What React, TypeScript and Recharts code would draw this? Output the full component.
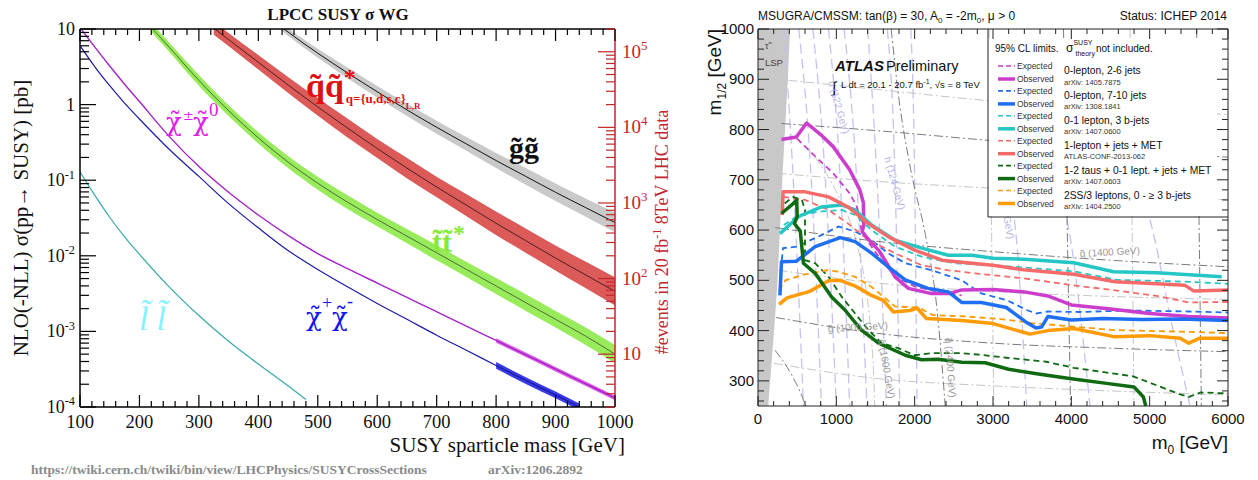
import React from "react";
import { ComposedChart, Line, Area, XAxis, YAxis } from "recharts";

const SERIF = '"Liberation Serif", "Times New Roman", serif';
const GREEK = '"DejaVu Serif", "Liberation Serif", serif';
const SANS = '"Liberation Sans", Arial, sans-serif';
const RED = "#c4262b";
const T = "\u0303"; // combining tilde

// ---------- left panel: NLO cross sections, log10(sigma / pb) ----------
const L_X_LABELS = [100, 200, 300, 400, 500, 600, 700, 800, 900, 1000];
const L_Y_DECADES = [-4, -3, -2, -1, 0, 1];
const LUMI_PB = 20000;

const GLUINO_M = [440, 450, 500, 550, 600, 650, 700, 750, 800, 850, 900, 950, 1000];
const GLUINO_LOG = [1.02, 0.96, 0.68, 0.42, 0.17, -0.07, -0.3, -0.52, -0.74, -0.95, -1.16, -1.36, -1.56];
const GLUINO_ERR = [0.05, 0.05, 0.06, 0.07, 0.075, 0.08, 0.085, 0.09, 0.1, 0.11, 0.115, 0.12, 0.13];

const SQUARK_M = [325, 350, 400, 450, 500, 550, 600, 650, 700, 750, 800, 850, 900, 950, 1000];
const SQUARK_LOG = [1.01, 0.86, 0.56, 0.26, -0.03, -0.31, -0.58, -0.84, -1.09, -1.33, -1.57, -1.8, -2.03, -2.25, -2.47];
const SQUARK_ERR = [0.08, 0.08, 0.09, 0.1, 0.11, 0.12, 0.12, 0.13, 0.13, 0.14, 0.15, 0.155, 0.16, 0.17, 0.18];

const STOP_M = [220, 250, 300, 350, 400, 450, 500, 550, 600, 650, 700, 750, 800, 850, 900, 950, 1000];
const STOP_LOG = [1.02, 0.76, 0.32, -0.08, -0.44, -0.76, -1.04, -1.29, -1.52, -1.74, -1.96, -2.18, -2.4, -2.62, -2.84, -3.06, -3.3];
const STOP_ERR = [0.06, 0.06, 0.07, 0.07, 0.075, 0.08, 0.085, 0.09, 0.09, 0.095, 0.1, 0.1, 0.105, 0.11, 0.11, 0.115, 0.12];

const N2C1_M = [100, 125, 150, 175, 200, 250, 300, 350, 400, 450, 500, 550, 600, 650, 700, 750, 800, 850, 900, 950, 1000];
const N2C1_LOG = [1.02, 0.76, 0.51, 0.27, 0.04, -0.42, -0.82, -1.16, -1.46, -1.73, -1.97, -2.17, -2.36, -2.55, -2.74, -2.93, -3.12, -3.31, -3.5, -3.69, -3.88];

const C1C1_M = [100, 125, 150, 175, 200, 250, 300, 350, 400, 450, 500, 550, 600, 650, 700, 750, 800, 850, 900, 940];
const C1C1_LOG = [0.78, 0.5, 0.25, 0.02, -0.19, -0.59, -0.95, -1.31, -1.63, -1.93, -2.18, -2.41, -2.63, -2.84, -3.05, -3.25, -3.45, -3.65, -3.84, -4.0];

const SLEP_M = [100, 125, 150, 175, 200, 250, 300, 350, 400, 450, 480];
const SLEP_LOG = [-0.89, -1.2, -1.49, -1.75, -1.98, -2.41, -2.79, -3.13, -3.43, -3.72, -3.9];

// ---------- right panel: ATLAS mSUGRA limits (m0, m1/2) in GeV ----------
const R_X_LABELS = [0, 1000, 2000, 3000, 4000, 5000, 6000];
const R_Y_LABELS = [300, 400, 500, 600, 700, 800, 900, 1000];

const LSP_EDGE = [[0, 250], [130, 250], [175, 340], [215, 420], [250, 500], [280, 600], [310, 700], [345, 800], [380, 900], [410, 1000]];

const MAG_OBS = [[300, 780], [490, 785], [620, 813], [800, 790], [960, 766], [1170, 720], [1300, 680], [1345, 655], [1350, 610], [1330, 597], [1400, 583], [1550, 558], [1750, 507], [1920, 484], [2200, 474], [2450, 474], [2600, 481], [3000, 482], [3400, 477], [3700, 469], [4000, 451], [4500, 443], [5000, 434], [5500, 428], [6000, 425]];
const MAG_EXP = [[500, 782], [720, 748], [960, 713], [1170, 673], [1260, 647], [1300, 620], [1320, 600], [1400, 578], [1550, 545], [1750, 508], [2000, 488], [2300, 477], [2600, 470]];
const BLUE_OBS = [[280, 470], [300, 537], [490, 538], [730, 567], [1050, 585], [1240, 577], [1450, 554], [1660, 527], [1880, 501], [2170, 484], [2430, 477], [2600, 456], [2850, 456], [3170, 446], [3430, 416], [3550, 405], [3620, 407], [3700, 428], [4000, 421], [4400, 424], [4900, 422], [5400, 423], [6000, 420]];
const BLUE_EXP = [[290, 520], [320, 564], [490, 567], [810, 590], [1030, 607], [1240, 597], [1450, 580], [1660, 554], [1880, 534], [2220, 520], [2600, 500], [2850, 474], [3170, 461], [3430, 441], [3550, 434], [3700, 438], [4100, 437], [4750, 440], [5500, 438], [6000, 436]];
const TEAL_OBS = [[280, 593], [520, 627], [810, 646], [1070, 650], [1240, 640], [1450, 610], [1750, 580], [2090, 564], [2430, 550], [2730, 550], [3000, 544], [3400, 542], [4030, 535], [4540, 517], [5090, 515], [5500, 511], [5920, 507]];
const TEAL_EXP = [[330, 610], [520, 630], [810, 637], [1070, 640], [1240, 630], [1450, 600], [1750, 567], [2090, 547], [2510, 534], [3010, 530], [3510, 524], [4030, 518], [4580, 501], [5090, 499], [5510, 497], [6000, 493]];
const SALMON_OBS = [[310, 630], [320, 676], [600, 676], [900, 666], [1150, 646], [1410, 613], [1660, 587], [2000, 560], [2350, 540], [2730, 534], [3000, 530], [3390, 521], [4030, 512], [4560, 497], [5090, 493], [5450, 490], [5560, 479], [6000, 481]];
const SALMON_EXP = [[320, 666], [600, 660], [900, 640], [1150, 613], [1410, 580], [1750, 554], [2090, 530], [2430, 520], [2770, 514], [3010, 510], [3390, 504], [4030, 490], [4560, 480], [5090, 469], [5500, 456], [6000, 457]];
const GREEN_OBS = [[300, 633], [430, 650], [494, 660], [500, 627], [465, 613], [540, 598], [580, 534], [730, 514], [940, 467], [1110, 441], [1320, 401], [1540, 375], [1880, 351], [2090, 342], [2300, 343], [2600, 337], [2900, 336], [3200, 323], [3600, 313], [4000, 304], [4450, 295], [4800, 288], [4920, 268], [4950, 250]];
const GREEN_EXP = [[340, 653], [450, 666], [560, 660], [600, 640], [600, 540], [730, 534], [900, 507], [1070, 467], [1240, 434], [1410, 401], [1580, 375], [1790, 365], [2000, 351], [2220, 355], [2600, 355], [2830, 352], [3170, 346], [3680, 338], [4030, 326], [4790, 309], [5390, 273], [5500, 268], [5650, 277], [6000, 275]];
const ORANGE_OBS = [[270, 452], [370, 465], [660, 478], [900, 499], [1050, 500], [1250, 488], [1450, 470], [1600, 460], [1730, 437], [1940, 440], [2030, 445], [2150, 424], [2600, 420], [3000, 414], [3470, 393], [3700, 400], [4030, 404], [4540, 388], [5000, 390], [5390, 385], [5500, 375], [5640, 385], [6000, 385]];
const ORANGE_EXP = [[270, 480], [350, 500], [600, 512], [880, 520], [1030, 517], [1240, 507], [1450, 487], [1750, 448], [2050, 446], [2230, 431], [2660, 428], [3090, 423], [3500, 415], [4030, 408], [4540, 401], [5390, 398], [6000, 395]];

// background contours
const H_LINES = [
  [[330, 1000], [450, 700], [580, 250]],
  [[520, 1000], [680, 700], [810, 250]],
  [[700, 1000], [860, 700], [1000, 250]],
  [[900, 1000], [1050, 700], [1170, 250]],
  [[1100, 1000], [1260, 700], [1390, 250]],
  [[1400, 1000], [1520, 700], [1640, 250]],
  [[1650, 1000], [1750, 700], [1810, 250]],
  [[1950, 1000], [2000, 700], [2030, 250]],
  [[3250, 650], [3300, 580], [3430, 250]],
  [[3900, 650], [3945, 620], [4238, 250]],
  [[4950, 650], [5005, 620], [5300, 400], [5515, 250]],
];
const GL_DARK = [
  [[300, 812], [1500, 798], [2900, 779], [4500, 760], [6000, 745]],
  [[220, 605], [1500, 578], [3000, 557], [4500, 540], [6000, 527]],
  [[230, 426], [1500, 395], [3000, 375], [4500, 365], [6000, 358]],
];
const GL_LIGHT = [
  [[390, 898], [1500, 880], [2900, 858], [6000, 830]],
  [[250, 713], [1500, 697], [3025, 683], [6000, 660]],
  [[260, 520], [1500, 495], [3090, 477], [4500, 468], [6000, 462]],
  [[200, 335], [1500, 305], [3000, 290], [4500, 280], [6000, 272]],
];
const SQ_DARK = [
  [[1700, 1000], [1800, 860], [1950, 720], [2150, 580], [2280, 450], [2350, 330], [2390, 250]],
  [[217, 361], [400, 320], [560, 270], [610, 250]],
  [[3900, 1000], [3990, 250]],
  [[5600, 1000], [5660, 250]],
];
const SQ_LIGHT = [
  [[400, 790], [750, 740], [1050, 660], [1250, 580], [1380, 480], [1450, 380], [1480, 300], [1490, 250]],
  [[2950, 1000], [3010, 250]],
  [[4750, 1000], [4800, 250]],
];

const MAG = "#cc3dcc";
const BLUE = "#1f6ff5";
const TEAL = "#25c6c6";
const SALMON = "#f76a6a";
const DGREEN = "#0f6a12";
const ORANGE = "#ff9b05";

const LEG_COLORS = [MAG, BLUE, TEAL, SALMON, DGREEN, ORANGE];
const LEG_NAMES = ["0-lepton, 2-6 jets", "0-lepton, 7-10 jets", "0-1 lepton, 3 b-jets", "1-lepton + jets + MET", "1-2 taus + 0-1 lept. + jets + MET", "2SS/3 leptons, 0 - \u2265 3 b-jets"];
const LEG_REFS = ["arXiv: 1405.7875", "arXiv: 1308.1841", "arXiv: 1407.0600", "ATLAS-CONF-2013-062", "arXiv: 1407.0603", "arXiv: 1404.2500"];

// ---------- geometry ----------
const L_W = 680;
const L_H = 480;
const LP = { left: 80, right: 615, top: 29, bottom: 407 };
const R_X0 = 680;
const R_W = 578;
const R_H = 480;
const RP = { left: 78, right: 548, top: 29, bottom: 406 };
// axis bands reserved inside the margins
const AX_W = 40;
const AX_H = 30;
const AX_T = 10;
const AX_R = 10;

// ---------- helpers ----------
const toLine = (m: number[], v: number[]) => m.map((x, i) => ({ x, y: v[i] }));
const toBand = (m: number[], v: number[], e: number[]) => m.map((x, i) => ({ x, band: [v[i] - e[i], v[i] + e[i]] }));
const toPts = (p: number[][]) => p.map(([x, y]) => ({ x, y }));
const isInt = (v: number) => Math.abs(v - Math.round(v)) < 1e-6;

const L_X_TICKS: number[] = [];
L_X_LABELS.forEach((v, i) => {
  if (i === L_X_LABELS.length - 1) L_X_TICKS.push(v);
  else for (let k = 0; k < 5; k++) L_X_TICKS.push(v + k * 20);
});
const L_Y_TICKS: number[] = [];
L_Y_DECADES.forEach((d) => {
  if (d === 1) L_Y_TICKS.push(1);
  else for (let k = 1; k <= 9; k++) L_Y_TICKS.push(d + Math.log10(k));
});
const LUMI_LOG = Math.log10(LUMI_PB);
const EVT_TICKS: number[] = [];
for (let n = 0; n <= 5; n++) {
  for (let k = 1; k <= 9; k++) {
    const v = Math.log10(k) + n - LUMI_LOG;
    if (v >= -4.0001 && v <= 1) EVT_TICKS.push(v);
  }
}
const R_X_TICKS: number[] = [];
for (let v = R_X_LABELS[0]; v <= R_X_LABELS[R_X_LABELS.length - 1]; v += 200) R_X_TICKS.push(v);
const R_Y_TICKS: number[] = [];
for (let v = 260; v <= R_Y_LABELS[R_Y_LABELS.length - 1]; v += 20) R_Y_TICKS.push(v);

const gluinoBand = toBand(GLUINO_M, GLUINO_LOG, GLUINO_ERR);
const squarkBand = toBand(SQUARK_M, SQUARK_LOG, SQUARK_ERR);
const stopBand = toBand(STOP_M, STOP_LOG, STOP_ERR);
const n2c1Band = toBand(N2C1_M.slice(16), N2C1_LOG.slice(16), N2C1_M.slice(16).map(() => 0.03));
const c1c1Band = toBand(C1C1_M.slice(16), C1C1_LOG.slice(16), C1C1_M.slice(16).map(() => 0.045));

const LSP_DATA = LSP_EDGE.map(([x, y]) => ({ x, band: [y, 1000] }));

// ---------- tick renderers ----------
function PowLabel({ x, y, exp, anchor, size, fill }: any) {
  if (exp === 0) return <text x={x} y={y} textAnchor={anchor} fontFamily={SERIF} fontSize={size} fill={fill}>1</text>;
  if (exp === 1) return <text x={x} y={y} textAnchor={anchor} fontFamily={SERIF} fontSize={size} fill={fill}>10</text>;
  return (
    <text x={x} y={y} textAnchor={anchor} fontFamily={SERIF} fontSize={size} fill={fill}>
      10<tspan dy={-size * 0.42} fontSize={size * 0.68}>{exp}</tspan>
    </text>
  );
}

const LBottomTick = (p: any) => {
  const v = p.payload.value;
  const major = v % 100 === 0;
  return (
    <g>
      <line x1={p.x} x2={p.x} y1={LP.bottom} y2={LP.bottom - (major ? 12 : 6)} stroke="#000" strokeWidth={1.2} />
      {major && <text x={p.x} y={428} textAnchor="middle" fontFamily={SERIF} fontSize={18.5} fill="#111">{v}</text>}
    </g>
  );
};
const LTopTick = (p: any) => {
  const major = p.payload.value % 100 === 0;
  return <line x1={p.x} x2={p.x} y1={LP.top} y2={LP.top + (major ? 12 : 6)} stroke="#000" strokeWidth={1.2} />;
};
const LLeftTick = (p: any) => {
  const v = p.payload.value;
  const major = isInt(v);
  return (
    <g>
      <line x1={LP.left} x2={LP.left + (major ? 16 : 9)} y1={p.y} y2={p.y} stroke="#000" strokeWidth={1.2} />
      {major && <PowLabel x={75} y={p.y + 6} exp={Math.round(v)} anchor="end" size={18} fill="#111" />}
    </g>
  );
};
const LRightTick = (p: any) => {
  const v = p.payload.value;
  const e = v + LUMI_LOG;
  const major = isInt(e);
  return (
    <g>
      <line x1={LP.right} x2={LP.right - (major ? 17 : 9)} y1={p.y} y2={p.y} stroke={RED} strokeWidth={1.2} />
      {major && <PowLabel x={622} y={p.y + 6} exp={Math.round(e)} anchor="start" size={19} fill={RED} />}
    </g>
  );
};

const RBottomTick = (p: any) => {
  const v = p.payload.value;
  const major = v % 1000 === 0;
  return (
    <g>
      <line x1={p.x} x2={p.x} y1={RP.bottom} y2={RP.bottom - (major ? 10 : 5)} stroke="#222" />
      {major && <text x={p.x} y={424} textAnchor="middle" fontFamily={SANS} fontSize={15} fill="#111">{v}</text>}
    </g>
  );
};
const RTopTick = (p: any) => {
  const major = p.payload.value % 1000 === 0;
  return <line x1={p.x} x2={p.x} y1={RP.top} y2={RP.top + (major ? 10 : 5)} stroke="#222" />;
};
const RLeftTick = (p: any) => {
  const v = p.payload.value;
  const major = v % 100 === 0;
  return (
    <g>
      <line x1={RP.left} x2={RP.left + (major ? 11 : 6)} y1={p.y} y2={p.y} stroke="#222" />
      {major && <text x={RP.left - 4} y={p.y + 5} textAnchor="end" fontFamily={SANS} fontSize={15} fill="#111">{v}</text>}
    </g>
  );
};
const RRightTick = (p: any) => {
  const major = p.payload.value % 100 === 0;
  return <line x1={RP.right} x2={RP.right - (major ? 11 : 6)} y1={p.y} y2={p.y} stroke="#222" />;
};

// ---------- panels ----------
function LeftPanel() {
  const common = { xAxisId: "b", yAxisId: "l", isAnimationActive: false } as const;
  return (
    <ComposedChart
      width={L_W}
      height={L_H}
      margin={{ top: LP.top - AX_T, left: LP.left - AX_W, right: L_W - LP.right - AX_R, bottom: L_H - LP.bottom - AX_H }}
    >
      <XAxis xAxisId="b" type="number" dataKey="x" domain={[100, 1000]} ticks={L_X_TICKS} interval={0} allowDataOverflow height={AX_H} tickSize={0} tickMargin={0} tickLine={false} axisLine={{ stroke: "#000", strokeWidth: 1.5 }} tick={LBottomTick} />
      <XAxis xAxisId="t" orientation="top" type="number" dataKey="x" domain={[100, 1000]} ticks={L_X_TICKS} interval={0} allowDataOverflow height={AX_T} tickSize={0} tickMargin={0} tickLine={false} axisLine={{ stroke: "#000", strokeWidth: 1.5 }} tick={LTopTick} />
      <YAxis yAxisId="l" type="number" domain={[-4, 1]} ticks={L_Y_TICKS} interval={0} allowDataOverflow width={AX_W} tickSize={0} tickMargin={0} tickLine={false} axisLine={{ stroke: "#000", strokeWidth: 1.5 }} tick={LLeftTick} />
      <YAxis yAxisId="r" orientation="right" type="number" domain={[-4, 1]} ticks={EVT_TICKS} interval={0} allowDataOverflow width={AX_R} tickSize={0} tickMargin={0} tickLine={false} axisLine={{ stroke: RED, strokeWidth: 1.5 }} tick={LRightTick} />

      <Area {...common} data={gluinoBand} dataKey="band" type="monotone" stroke="none" fill="#c9c9c9" fillOpacity={1} />
      <Area {...common} data={squarkBand} dataKey="band" type="monotone" stroke="#c83c3c" strokeWidth={0.6} fill="#dc5a58" fillOpacity={1} />
      <Area {...common} data={stopBand} dataKey="band" type="monotone" stroke="none" fill="#98ec5c" fillOpacity={1} />
      <Area {...common} data={n2c1Band} dataKey="band" type="monotone" stroke="none" fill="#de5ee6" fillOpacity={1} />
      <Area {...common} data={c1c1Band} dataKey="band" type="monotone" stroke="none" fill="#3a3ae6" fillOpacity={1} />

      <Line {...common} data={toLine(GLUINO_M, GLUINO_LOG)} dataKey="y" type="monotone" stroke="#111" strokeWidth={1} dot={false} activeDot={false} />
      <Line {...common} data={toLine(SQUARK_M, SQUARK_LOG)} dataKey="y" type="monotone" stroke="#3a1a1a" strokeWidth={0.9} dot={false} activeDot={false} />
      <Line {...common} data={toLine(STOP_M, STOP_LOG)} dataKey="y" type="monotone" stroke="#3a4a30" strokeWidth={0.8} dot={false} activeDot={false} />
      <Line {...common} data={toLine(N2C1_M, N2C1_LOG)} dataKey="y" type="monotone" stroke="#a424c8" strokeWidth={1.4} dot={false} activeDot={false} />
      <Line {...common} data={toLine(C1C1_M, C1C1_LOG)} dataKey="y" type="monotone" stroke="#1c1ca4" strokeWidth={1.2} dot={false} activeDot={false} />
      <Line {...common} data={toLine(SLEP_M, SLEP_LOG)} dataKey="y" type="monotone" stroke="#3aa8a8" strokeWidth={1.2} dot={false} activeDot={false} />
    </ComposedChart>
  );
}

function RightPanel() {
  const common = { xAxisId: "b", yAxisId: "l", isAnimationActive: false, dot: false, activeDot: false } as const;
  return (
    <ComposedChart
      width={R_W}
      height={R_H}
      margin={{ top: RP.top - AX_T, left: RP.left - AX_W, right: R_W - RP.right - AX_R, bottom: R_H - RP.bottom - AX_H }}
    >
      <XAxis xAxisId="b" type="number" dataKey="x" domain={[0, 6000]} ticks={R_X_TICKS} interval={0} allowDataOverflow height={AX_H} tickSize={0} tickMargin={0} tickLine={false} axisLine={{ stroke: "#222" }} tick={RBottomTick} />
      <XAxis xAxisId="t" orientation="top" type="number" dataKey="x" domain={[0, 6000]} ticks={R_X_TICKS} interval={0} allowDataOverflow height={AX_T} tickSize={0} tickMargin={0} tickLine={false} axisLine={{ stroke: "#222" }} tick={RTopTick} />
      <YAxis yAxisId="l" type="number" domain={[250, 1000]} ticks={R_Y_TICKS} interval={0} allowDataOverflow width={AX_W} tickSize={0} tickMargin={0} tickLine={false} axisLine={{ stroke: "#222" }} tick={RLeftTick} />
      <YAxis yAxisId="r" orientation="right" type="number" domain={[250, 1000]} ticks={R_Y_TICKS} interval={0} allowDataOverflow width={AX_R} tickSize={0} tickMargin={0} tickLine={false} axisLine={{ stroke: "#222" }} tick={RRightTick} />

      <Area xAxisId="b" yAxisId="l" isAnimationActive={false} data={LSP_DATA} dataKey="band" type="linear" stroke="none" fill="#c8c8c8" fillOpacity={1} />

      {H_LINES.map((p, i) => (
        <Line key={"h" + i} {...common} data={toPts(p)} dataKey="y" type="monotone" stroke="#c3c3f3" strokeWidth={1.3} strokeDasharray="10 5" />
      ))}
      {GL_LIGHT.concat(SQ_LIGHT).map((p, i) => (
        <Line key={"gl" + i} {...common} data={toPts(p)} dataKey="y" type="monotone" stroke="#c6c6c6" strokeWidth={1} strokeDasharray="9 3 2 3" />
      ))}
      {GL_DARK.concat(SQ_DARK).map((p, i) => (
        <Line key={"gd" + i} {...common} data={toPts(p)} dataKey="y" type="monotone" stroke="#7c7c7c" strokeWidth={1} strokeDasharray="9 3 2 3" />
      ))}

      <Line {...common} type="linear" data={toPts(MAG_EXP)} dataKey="y" stroke={MAG} strokeWidth={1.8} strokeDasharray="6 4" />
      <Line {...common} type="linear" data={toPts(BLUE_EXP)} dataKey="y" stroke={BLUE} strokeWidth={1.8} strokeDasharray="6 4" />
      <Line {...common} type="linear" data={toPts(TEAL_EXP)} dataKey="y" stroke={TEAL} strokeWidth={1.8} strokeDasharray="6 4" />
      <Line {...common} type="linear" data={toPts(SALMON_EXP)} dataKey="y" stroke={SALMON} strokeWidth={1.8} strokeDasharray="6 4" />
      <Line {...common} type="linear" data={toPts(GREEN_EXP)} dataKey="y" stroke={DGREEN} strokeWidth={1.8} strokeDasharray="6 4" />
      <Line {...common} type="linear" data={toPts(ORANGE_EXP)} dataKey="y" stroke={ORANGE} strokeWidth={1.8} strokeDasharray="6 4" />

      <Line {...common} type="linear" data={toPts(MAG_OBS)} dataKey="y" stroke={MAG} strokeWidth={3.5} strokeLinejoin="round" />
      <Line {...common} type="linear" data={toPts(TEAL_OBS)} dataKey="y" stroke={TEAL} strokeWidth={3.5} strokeLinejoin="round" />
      <Line {...common} type="linear" data={toPts(SALMON_OBS)} dataKey="y" stroke={SALMON} strokeWidth={3.5} strokeLinejoin="round" />
      <Line {...common} type="linear" data={toPts(BLUE_OBS)} dataKey="y" stroke={BLUE} strokeWidth={3.5} strokeLinejoin="round" />
      <Line {...common} type="linear" data={toPts(ORANGE_OBS)} dataKey="y" stroke={ORANGE} strokeWidth={3.5} strokeLinejoin="round" />
      <Line {...common} type="linear" data={toPts(GREEN_OBS)} dataKey="y" stroke={DGREEN} strokeWidth={3.5} strokeLinejoin="round" />
    </ComposedChart>
  );
}

// ---------- overlay texts ----------
function LeftTexts() {
  return (
    <g fontFamily={SERIF}>
      <text x={338} y={20} textAnchor="middle" fontWeight="bold" fontSize={17} fill="#111">LPCC SUSY σ WG</text>
      <text transform="translate(28,218) rotate(-90)" textAnchor="middle" fontSize={21} fill="#111">NLO(-NLL) σ(pp→ SUSY) [pb]</text>
      <text transform="translate(668,232) rotate(-90)" textAnchor="middle" fontSize={18} fill={RED}>
        #events in 20 fb<tspan dy={-7} fontSize={12}>-1</tspan><tspan dy={7}> 8TeV LHC data</tspan>
      </text>
      <text x={625} y={452} textAnchor="end" fontSize={21} fill="#111">SUSY sparticle mass [GeV]</text>
      <text x={31} y={474} fontWeight="bold" fontSize={13.5} fill="#8a8a8a">https://twiki.cern.ch/twiki/bin/view/LHCPhysics/SUSYCrossSections</text>
      <text x={488} y={474} fontWeight="bold" fontSize={13.5} fill="#8a8a8a">arXiv:1206.2892</text>

      {/* squark-antisquark */}
      <text x={306} y={97} fontWeight="bold" fontSize={34} fill="#e01010">
        {"q" + T + "q" + T}
        <tspan dy={-12} fontSize={24}>*</tspan>
        <tspan dy={18} dx={-10} fontSize={13}>q={"{"}u,d,s,c{"}"}</tspan>
        <tspan dy={6} fontSize={9}>L,R</tspan>
      </text>

      {/* gluino */}
      <text x={509} y={158} fontWeight="bold" fontSize={30} fill="#111">{"g" + T + "g" + T}</text>

      {/* stop */}
      <text x={432} y={252} fontWeight="bold" fontSize={30} fill="#86ea3c">
        {"t" + T + "t" + T}
        <tspan dy={-11} dx={1} fontSize={24}>*</tspan>
      </text>

      {/* chargino-neutralino */}
      <text x={166} y={131} fontFamily={GREEK} fontSize={26} fill="#e020e8">
        {"χ" + T}
        <tspan x={183} y={120} fontSize={13}>±</tspan>
        <tspan x={193} y={131}>{"χ" + T}</tspan>
        <tspan x={209} y={116} fontFamily={SERIF} fontSize={19}>0</tspan>
      </text>

      {/* chargino pair */}
      <text x={306} y={326} fontFamily={GREEK} fontSize={26} fill="#1414f0">
        {"χ" + T}
        <tspan x={322} y={309} fontFamily={SERIF} fontSize={18}>+</tspan>
        <tspan x={332} y={326}>{"χ" + T}</tspan>
        <tspan x={347} y={307} fontFamily={SERIF} fontSize={18}>-</tspan>
      </text>

      {/* slepton */}
      <text x={139} y={330} fontStyle="italic" fontSize={34} letterSpacing={8} fill="#86f2ff">{"l" + T + "l" + T}</text>
    </g>
  );
}

function RightTexts() {
  const ox = R_X0;
  return (
    <g fontFamily={SANS}>
      <text x={ox + RP.left} y={20} fontSize={12} fill="#111">
        MSUGRA/CMSSM: tan(β) = 30, A<tspan dy={3} fontSize={8}>0</tspan><tspan dy={-3}> = -2m</tspan><tspan dy={3} fontSize={8}>0</tspan><tspan dy={-3}>, μ {">"} 0</tspan>
      </text>
      <text x={ox + RP.right - 1} y={20} textAnchor="end" fontSize={12} fill="#111">Status: ICHEP 2014</text>
      <text transform={`translate(${ox + 41},29) rotate(-90)`} textAnchor="end" fontSize={19} fill="#111">
        m<tspan dy={5} fontSize={12}>1/2</tspan><tspan dy={-5}> [GeV]</tspan>
      </text>
      <text x={ox + RP.right} y={449} textAnchor="end" fontSize={19} fill="#111">
        m<tspan dy={5} fontSize={12}>0</tspan><tspan dy={-5}> [GeV]</tspan>
      </text>

      <text x={ox + 85} y={49} fontSize={9} fill="#444">{"τ" + T}</text>
      <text x={ox + 85} y={66} fontSize={9.5} fill="#444">LSP</text>

      <text x={ox + 155} y={71} fontSize={15} fontWeight="bold" fontStyle="italic" fill="#111">ATLAS</text>
      <text x={ox + 206} y={71} fontSize={14.5} fill="#111">Preliminary</text>
      <text x={ox + 152} y={93} fontSize={16} fill="#111">∫</text>
      <text x={ox + 161} y={88} fontSize={9.5} fill="#111">
        L dt = 20.1 - 20.7 fb<tspan dy={-4} fontSize={7}>-1</tspan><tspan dy={4}>,  √s = 8 TeV</tspan>
      </text>

      <text transform={`translate(${ox + 148},82) rotate(74)`} fontSize={10} fill="#b4b4e4">h (122 GeV)</text>
      <text transform={`translate(${ox + 204},158) rotate(74)`} fontSize={10} fill="#b4b4e4">h (124 GeV)</text>
      <text transform={`translate(${ox + 318},186) rotate(80)`} fontSize={10} fill="#b4b4e4">h (125 GeV)</text>
      <text transform={`translate(${ox + 148},332) rotate(-3)`} fontSize={10} fill="#9a9a9a">{"g" + T + " (1000 GeV)"}</text>
      <text transform={`translate(${ox + 198},340) rotate(80)`} fontSize={10} fill="#9a9a9a">{"q" + T + " (1600 GeV)"}</text>
      <text transform={`translate(${ox + 265},338) rotate(86)`} fontSize={10} fill="#9a9a9a">{"q" + T + " (2400 GeV)"}</text>
      <text transform={`translate(${ox + 400},257) rotate(-3)`} fontSize={10} fill="#9a9a9a">{"g" + T + " (1400 GeV)"}</text>

      {/* legend */}
      <rect x={989} y={39} width={228} height={177} fill="#fff" />
      <line x1={988} x2={988} y1={29} y2={217} stroke="#222" />
      <line x1={988} x2={1228} y1={217} y2={217} stroke="#222" />
      <text x={995} y={52} fontSize={10} fill="#111">95% CL limits.</text>
      <text x={1066} y={52} fontSize={12} fill="#111">
        σ<tspan dy={-7} fontSize={7}>SUSY</tspan><tspan dy={11} dx={-17} fontSize={7}>theory</tspan>
      </text>
      <text x={1096} y={52} fontSize={10} fill="#111">not included.</text>
      {LEG_COLORS.map((c, i) => {
        const ey = 66 + 24.9 * i;
        const oy = 79 + 24.9 * i;
        return (
          <g key={i}>
            <line x1={998} x2={1015} y1={ey} y2={ey} stroke={c} strokeWidth={1.6} strokeDasharray="5 3" />
            <line x1={998} x2={1015} y1={oy} y2={oy} stroke={c} strokeWidth={3.5} />
            <text x={1017} y={ey + 3} fontSize={8.5} fill="#333">Expected</text>
            <text x={1017} y={oy + 3} fontSize={8.5} fill="#333">Observed</text>
            <text x={1064} y={74 + 24.9 * i} fontSize={10.3} fill="#111">{LEG_NAMES[i]}</text>
            <text x={1064} y={84.5 + 24.9 * i} fontSize={7.5} fill="#333">{LEG_REFS[i]}</text>
          </g>
        );
      })}
    </g>
  );
}

export default function App() {
  return (
    <div style={{ position: "absolute", left: 0, top: 0, width: 1258, height: 480, background: "#fff", overflow: "hidden" }}>
      <div style={{ position: "absolute", left: 0, top: 0 }}>
        <LeftPanel />
      </div>
      <div style={{ position: "absolute", left: R_X0, top: 0 }}>
        <RightPanel />
      </div>
      <svg width={1258} height={480} style={{ position: "absolute", left: 0, top: 0, pointerEvents: "none" }}>
        <LeftTexts />
        <RightTexts />
      </svg>
    </div>
  );
}
